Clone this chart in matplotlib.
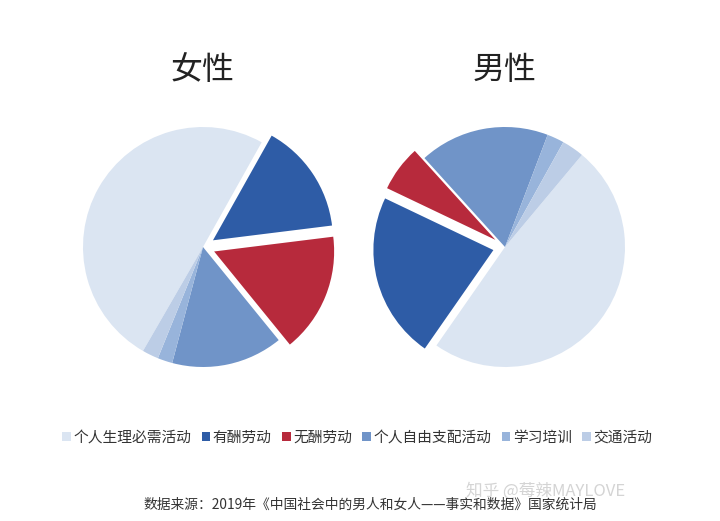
import matplotlib
matplotlib.use("Agg")
import matplotlib.pyplot as plt
from matplotlib.patches import Patch

plt.rcParams['font.family'] = ['Noto Sans CJK SC', 'DejaVu Sans']

#%% ─── Data ──────────────────────────────────────────────────────────────────────

categories = ['个人生理必需活动', '有酬劳动', '无酬劳动', '个人自由支配活动', '学习培训', '交通活动']
female     = [49.8, 14.9, 16.1, 15.0, 2.0, 2.2]   # % of a day
male       = [48.6, 22.4, 6.2, 17.5, 2.3, 3.0]
titles     = ['女性', '男性']

colors  = ['#dbe5f2', '#2e5ca6', '#b72a3c', '#7094c8', '#98b4db', '#bccde6']
explode = [0, 0.1, 0.1, 0, 0, 0]   # fraction of radius

source    = '数据来源：2019年《中国社会中的男人和女人——事实和数据》国家统计局'
watermark = '知乎 @莓辣MAYLOVE'

#%% ─── Figure ────────────────────────────────────────────────────────────────────

W, H = 720, 521
fig = plt.figure(figsize=(W / 100, H / 100), dpi=100)
ax = fig.add_axes([0, 0, 1, 1])

# pies laid out in pixel coordinates
centers = [(203, H - 247), (505, H - 247)]
starts  = [240, 50.1]
radius  = 120

for vals, c, st, title in zip([female, male], centers, starts, titles):
    # explode is an absolute offset in matplotlib, so scale it by the radius
    ax.pie(vals, colors=colors, explode=[e * radius for e in explode], startangle=st,
           counterclock=False, center=c, radius=radius,
           wedgeprops=dict(linewidth=0))
    ax.text(c[0], H - 70, title, ha='center', va='center', fontsize=23, color='#222222')

ax.set_xlim(0, W)
ax.set_ylim(0, H)
ax.set_aspect('equal')
ax.axis('off')

handles = [Patch(facecolor=col, edgecolor='none') for col in colors]
fig.legend(handles, categories, loc='center', bbox_to_anchor=(0.496, 1 - 438 / H),
           ncol=6, frameon=False, fontsize=10.6, handlelength=0.6, handleheight=0.6,
           handletextpad=0.15, columnspacing=0.7, labelcolor='#333333')

fig.text(0.758, 1 - 491 / H, watermark, ha='center', va='center', fontsize=12, color='#d4d4d4')
fig.text(0.514, 1 - 505 / H, source, ha='center', va='center', fontsize=9.9, color='#333333')

fig.savefig('out.png', dpi=100)
